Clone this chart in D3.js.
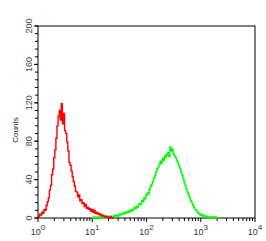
<!DOCTYPE html>
<html>
<head>
<meta charset="utf-8">
<script src="https://cdn.jsdelivr.net/npm/d3@7"></script>
<style>
  body { margin: 0; background: #fff; }
  text { font-family: "Liberation Sans", Arial, sans-serif; }
</style>
</head>
<body>
<div id="vis"></div>
<script>
// histogram bins, log10 of fluorescence, step 0.02
const redStart = 0.0;
const redCounts = [2, 1, 4, 3, 6, 5, 9, 8, 13, 17, 21, 29, 34, 45, 51, 63, 71, 83, 96, 106,
  112, 102, 119, 98, 109, 91, 88, 79, 70, 58, 55, 49, 43, 38, 33, 28, 27, 22, 24, 18,
  19, 15, 16, 12, 14, 10, 11, 9, 10, 7, 9, 6, 8, 5, 6, 4, 5, 3, 4, 2,
  3, 2, 1, 2, 1, 1, 0, 1, 0, 0, 0];

const greenStart = 1.0;
const greenCounts = [0, 0, 1, 0, 0, 1, 0, 1, 0, 1, 1, 0, 1, 2, 1, 1, 2, 1, 2, 2,
  1, 3, 2, 3, 2, 4, 3, 4, 5, 4, 6, 5, 6, 7, 6, 8, 7, 9, 8, 11,
  10, 12, 11, 14, 15, 14, 18, 17, 21, 20, 24, 26, 25, 30, 33, 35, 38, 42, 44, 48,
  51, 53, 56, 59, 57, 62, 60, 65, 63, 66, 68, 64, 74, 70, 72, 67, 65, 63, 60, 58,
  55, 52, 48, 45, 41, 37, 34, 30, 27, 24, 21, 18, 16, 13, 11, 9, 8, 6, 5, 4,
  3, 4, 2, 3, 2, 1, 2, 1, 1, 0, 1, 0, 1, 0, 1, 0, 0];

const binStep = 0.02;
const yTicks = [0, 40, 80, 120, 160, 200];
const xDecades = [0, 1, 2, 3, 4];

const svg = d3.select("#vis")
  .append("svg")
  .attr("width", 266)
  .attr("height", 241);

const margin = { top: 26, right: 11, bottom: 23, left: 38 };
const width = 266 - margin.left - margin.right;
const height = 241 - margin.top - margin.bottom;

const chart = svg.append("g")
  .attr("transform", `translate(${margin.left}, ${margin.top})`);

const x = d3.scaleLog()
  .domain([1, 10000])
  .range([0, width]);

const y = d3.scaleLinear()
  .domain([0, 200])
  .range([height, 0]);

// frame
chart.append("rect")
  .attr("width", width)
  .attr("height", height)
  .attr("fill", "none")
  .attr("stroke", "#000")
  .attr("stroke-width", 1);

// y minor ticks every 8
const yMinor = d3.range(0, 201, 8);
chart.selectAll(".ymin")
  .data(yMinor)
  .enter()
  .append("line")
  .attr("x1", -3)
  .attr("x2", 0)
  .attr("y1", d => y(d))
  .attr("y2", d => y(d))
  .attr("stroke", "#000");

chart.selectAll(".ymaj")
  .data(yTicks)
  .enter()
  .append("line")
  .attr("x1", -4)
  .attr("x2", 0)
  .attr("y1", d => y(d))
  .attr("y2", d => y(d))
  .attr("stroke", "#000");

chart.selectAll(".ylab")
  .data(yTicks)
  .enter()
  .append("text")
  .attr("transform", d => `translate(-6, ${y(d)}) rotate(-90)`)
  .attr("text-anchor", "middle")
  .attr("font-size", "9px")
  .attr("fill", "#444")
  .text(d => d);

chart.append("text")
  .attr("transform", `translate(-20, ${height / 2 + 8}) rotate(-90)`)
  .attr("text-anchor", "middle")
  .attr("font-size", "8px")
  .attr("fill", "#222")
  .text("Counts");

// x minor ticks (log)
const xMinor = [];
xDecades.slice(0, -1).forEach(dec => {
  for (let k = 2; k <= 9; k++) xMinor.push(k * Math.pow(10, dec));
});
chart.selectAll(".xmin")
  .data(xMinor)
  .enter()
  .append("line")
  .attr("x1", d => x(d))
  .attr("x2", d => x(d))
  .attr("y1", height)
  .attr("y2", height + 3)
  .attr("stroke", "#000");

chart.selectAll(".xmaj")
  .data(xDecades)
  .enter()
  .append("line")
  .attr("x1", d => x(Math.pow(10, d)))
  .attr("x2", d => x(Math.pow(10, d)))
  .attr("y1", height)
  .attr("y2", height + 4)
  .attr("stroke", "#000");

const xlab = chart.selectAll(".xlab")
  .data(xDecades)
  .enter()
  .append("text")
  .attr("x", d => x(Math.pow(10, d)))
  .attr("y", height + 17)
  .attr("text-anchor", "middle")
  .attr("font-size", "9px")
  .attr("fill", "#333");
xlab.append("tspan").text("10");
xlab.append("tspan")
  .attr("dy", -5)
  .attr("font-size", "8px")
  .text(d => d);

// histograms
const toPoints = (start, counts) =>
  counts.map((c, i) => ({ v: Math.pow(10, start + i * binStep), c: c }));

const line = d3.line()
  .x(d => x(d.v))
  .y(d => y(d.c))
  .curve(d3.curveStep);

chart.append("path")
  .datum(toPoints(greenStart, greenCounts))
  .attr("d", line)
  .attr("fill", "none")
  .attr("stroke", "#00ff00")
  .attr("stroke-width", 1.4);

chart.append("path")
  .datum(toPoints(redStart, redCounts))
  .attr("d", line)
  .attr("fill", "none")
  .attr("stroke", "#ff0000")
  .attr("stroke-width", 1.4);
</script>
</body>
</html>
